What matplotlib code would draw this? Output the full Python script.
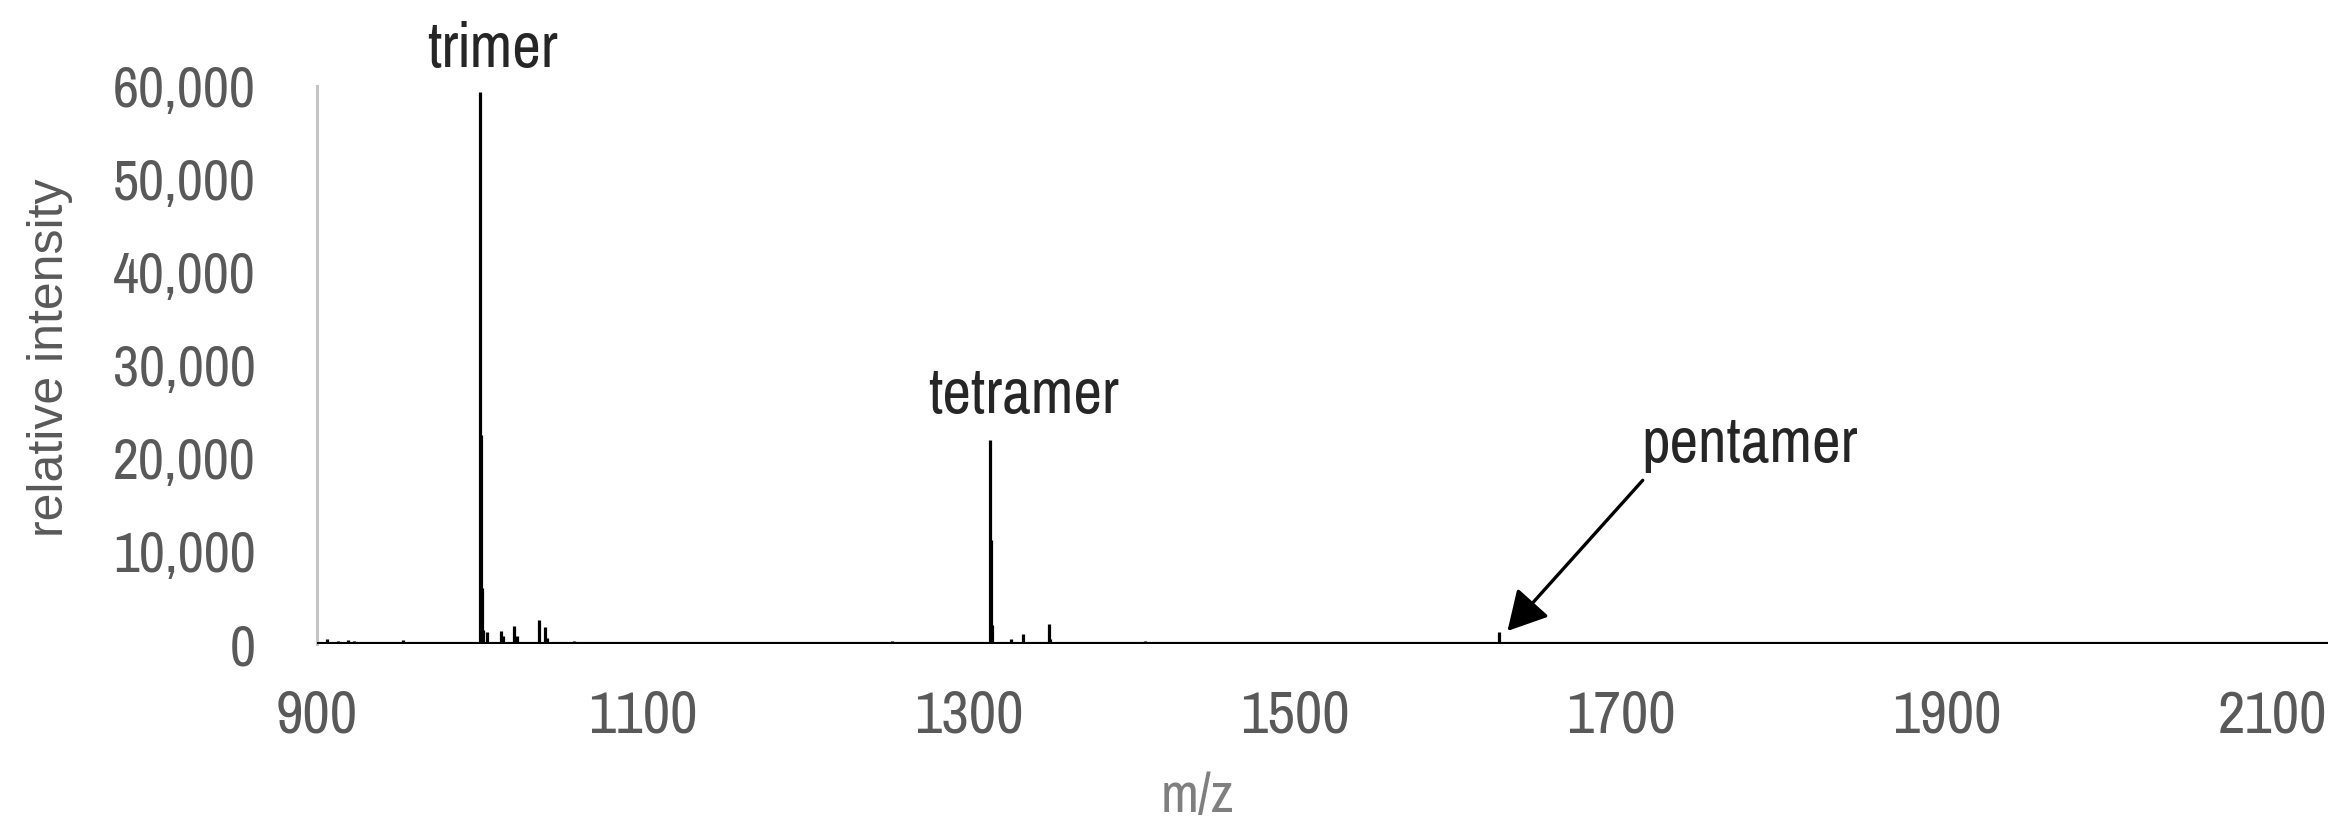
import matplotlib
matplotlib.use("Agg")
import matplotlib.pyplot as plt
from matplotlib import font_manager

# Peak list (m/z, relative intensity)
peak_mz = [906, 913, 919, 923, 953,
           1000, 1000.6, 1001.2, 1002, 1004.5, 1013, 1014, 1021, 1022.5, 1036, 1040, 1041, 1051, 1058,
           1253, 1313, 1313.6, 1314.3, 1326, 1333, 1349, 1350, 1408,
           1625, 1652]
peak_int = [550, 300, 450, 300, 400,
            59400, 22500, 6000, 1500, 1300, 1450, 900, 1900, 900, 2540, 1800, 600, 250, 300,
            300, 21900, 11200, 2000, 550, 1100, 2100, 500, 300,
            1270, 200]

x_ticks = [900, 1100, 1300, 1500, 1700, 1900, 2100]
y_ticks = [0, 10000, 20000, 30000, 40000, 50000, 60000]
y_tick_labels = ["0", "10,000", "20,000", "30,000", "40,000", "50,000", "60,000"]

labels = ["trimer", "tetramer", "pentamer"]
label_x = [1007.5, 1333.5, 1779]
label_y = [62000, 24800, 19570]

names = {f.name for f in font_manager.fontManager.ttflist}
narrow = 'Liberation Sans'
for cand in ['Pragati Narrow', 'Roboto Condensed', 'Archivo Narrow', 'PT Sans Narrow']:
    if cand in names:
        narrow = cand
        break
plt.rcParams['font.family'] = [narrow, 'DejaVu Sans']

fig = plt.figure(figsize=(23.42, 8.33), dpi=100)
renderer = fig.canvas.get_renderer()


def fit_size(s, target_px, family=None):
    kw = {} if family is None else {'family': family}
    t = fig.text(0, 0, s, fontsize=20, **kw)
    w = t.get_window_extent(renderer=renderer).width
    t.remove()
    return 20 * target_px / w


ytick_fs = fit_size("60,000", 142)
xtick_fs = fit_size("300", 82)
tick_fs = (ytick_fs + xtick_fs) / 2
ann_fs = (fit_size("trimer", 130) + fit_size("tetramer", 192) + fit_size("pentamer", 215)) / 3
mz_fs = fit_size("m/z", 73)

ax = fig.add_axes([317/2342, 1-644/833, (2328-317)/2342, (644-86)/833])

ax.set_xlim(900, 2134)
ax.set_ylim(0, 60000)

ax.axhline(0, color='black', lw=3.0, zorder=3)
ax.vlines(peak_mz, 0, peak_int, color='black', lw=2.3, zorder=3)

for s in ['top', 'right', 'bottom']:
    ax.spines[s].set_visible(False)
ax.spines['left'].set_color('#c4c4c4')
ax.spines['left'].set_linewidth(2.2)

ax.set_xticks(x_ticks)
ax.set_xticklabels([str(t) for t in x_ticks])
ax.set_yticks(y_ticks)
ax.set_yticklabels(y_tick_labels)
ax.tick_params(axis='both', length=0, labelcolor='#595959')
ax.tick_params(axis='x', pad=33, labelsize=xtick_fs)
ax.tick_params(axis='y', pad=44, labelsize=ytick_fs)

for t, x, y in zip(labels, label_x, label_y):
    ax.text(x, y, t, ha='center', va='baseline', fontsize=ann_fs, color='#262626', clip_on=False)

ax.annotate('', xy=(1630.5, 1400), xytext=(1713.5, 17600),
            arrowprops=dict(arrowstyle='-|>,head_length=0.4,head_width=0.22',
                            mutation_scale=60, lw=2.4, color='black',
                            shrinkA=0, shrinkB=0))

fig.text(50/2342, 1-358/833, "relative intensity", rotation=90, ha='center', va='center',
         fontsize=36, color='#595959', family=['Liberation Sans', 'DejaVu Sans'])
fig.text(1197/2342, 1-812/833, "m/z", ha='center', va='baseline', fontsize=mz_fs, color='#7f7f7f')

fig.savefig("out.png", dpi=100)
